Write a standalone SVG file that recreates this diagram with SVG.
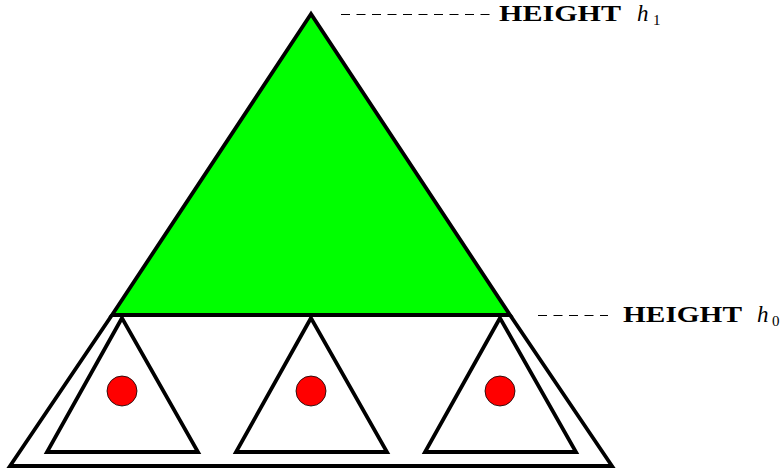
<svg xmlns="http://www.w3.org/2000/svg" width="783" height="474" viewBox="0 0 783 474">
<style>
.thick{fill:none;stroke:#000;stroke-width:3.8;stroke-linejoin:miter;stroke-miterlimit:10}
.green{fill:#00ff00;stroke:#000;stroke-width:3.8;stroke-linejoin:miter;stroke-miterlimit:10}
.sub{fill:#fff;stroke:#000;stroke-width:3.8;stroke-linejoin:miter;stroke-miterlimit:10}
.dot{fill:#ff0000;stroke:#000;stroke-width:0.8}
.dash{stroke:#000;stroke-width:1;stroke-dasharray:9 6.5;fill:none}
.lbl{font-family:"Liberation Serif","DejaVu Serif",serif;font-weight:bold;font-size:23px;fill:#000}
.var{font-family:"Liberation Serif","DejaVu Serif",serif;font-style:italic;font-size:23px;fill:#000}
.idx{font-family:"Liberation Serif","DejaVu Serif",serif;font-size:15px;fill:#000}
</style>
<g id="outer">
<polyline class="thick" points="112,315 10,466 612,466 510,315"/>
</g>
<g id="top-tree">
<polygon class="green" points="311,14 112,315 510,315"/>
</g>
<g id="sub-left">
<polygon class="sub" points="122,318 47,452 198,452"/>
<circle class="dot" cx="122" cy="391" r="15"/>
</g>
<g id="sub-mid">
<polygon class="sub" points="311,318 236,452 387,452"/>
<circle class="dot" cx="311" cy="391" r="15"/>
</g>
<g id="sub-right">
<polygon class="sub" points="500,318 425,452 576,452"/>
<circle class="dot" cx="500" cy="391" r="15"/>
</g>
<g id="connectors">
<line class="dash" x1="341" y1="14.5" x2="492" y2="14.5"/>
<line class="dash" x1="538" y1="315.5" x2="608" y2="315.5"/>
</g>
<g id="label-h1">
<text class="lbl" x="499" y="21" textLength="122" lengthAdjust="spacingAndGlyphs">HEIGHT</text>
<text class="var" x="637" y="21">h</text>
<text class="idx" x="653" y="25">1</text>
</g>
<g id="label-h0">
<text class="lbl" x="623" y="322" textLength="119" lengthAdjust="spacingAndGlyphs">HEIGHT</text>
<text class="var" x="757" y="322">h</text>
<text class="idx" x="772" y="326">0</text>
</g>
</svg>
